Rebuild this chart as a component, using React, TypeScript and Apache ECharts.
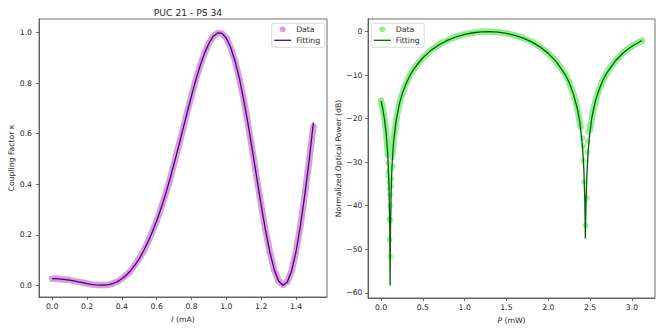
import React, { useEffect, useRef } from 'react';
import * as echarts from 'echarts';

// ---------- Left panel: coupling factor vs current ----------
const currentI = [
  0, 0.025, 0.05, 0.075, 0.1, 0.125, 0.15, 0.175, 0.2, 0.225, 0.25, 0.275, 0.3, 0.325, 0.35, 0.375,
  0.4, 0.425, 0.45, 0.475, 0.5, 0.525, 0.55, 0.575, 0.6, 0.625, 0.65, 0.675, 0.7, 0.725, 0.75, 0.775,
  0.8, 0.825, 0.85, 0.875, 0.9, 0.925, 0.95, 0.975, 1.0, 1.025, 1.05, 1.075, 1.1, 1.125, 1.15, 1.175,
  1.2, 1.225, 1.25, 1.275, 1.3, 1.325, 1.35, 1.375, 1.4, 1.425, 1.45, 1.475, 1.5,
];
const kappaData = [
  0.026, 0.027, 0.024, 0.023, 0.021, 0.017, 0.014, 0.011, 0.007, 0.004, 0.002, 0.001, 0.001, 0.003, 0.008, 0.015,
  0.027, 0.041, 0.057, 0.081, 0.107, 0.136, 0.173, 0.213, 0.255, 0.306, 0.36, 0.416, 0.483, 0.549, 0.615, 0.686,
  0.75, 0.815, 0.871, 0.918, 0.959, 0.985, 0.999, 0.996, 0.979, 0.94, 0.888, 0.817, 0.735, 0.636, 0.533, 0.423,
  0.318, 0.217, 0.131, 0.061, 0.018, 0.002, 0.014, 0.057, 0.134, 0.233, 0.357, 0.49, 0.628,
];
const kappaFit = [
  0.027, 0.0265, 0.025, 0.023, 0.0205, 0.0175, 0.014, 0.0105, 0.007, 0.004, 0.0018, 0.0006, 0.0008, 0.003, 0.0075, 0.015,
  0.026, 0.04, 0.058, 0.08, 0.106, 0.137, 0.172, 0.212, 0.256, 0.305, 0.359, 0.418, 0.482, 0.548, 0.616, 0.684,
  0.751, 0.814, 0.87, 0.919, 0.958, 0.986, 0.999, 0.997, 0.978, 0.941, 0.887, 0.818, 0.733, 0.637, 0.532, 0.424,
  0.317, 0.218, 0.13, 0.062, 0.017, 0.0002, 0.0135, 0.058, 0.133, 0.234, 0.356, 0.491, 0.645,
];
const leftXTicks = [0, 0.2, 0.4, 0.6, 0.8, 1.0, 1.2, 1.4];
const leftYTicks = [0, 0.2, 0.4, 0.6, 0.8, 1.0];

// ---------- Right panel: normalized optical power vs electrical power ----------
const bandAP = [0, 0.015, 0.03, 0.045, 0.06, 0.072, 0.082];
const bandADb = [-15.9, -17.2, -18.8, -20.6, -23.0, -25.5, -28.3];
const bandBP = [
  0.135, 0.145, 0.16, 0.18, 0.2, 0.22, 0.25, 0.28, 0.32, 0.36, 0.4, 0.45, 0.5, 0.55, 0.6, 0.65, 0.7, 0.75,
  0.8, 0.85, 0.9, 0.95, 1.0, 1.1, 1.2, 1.3, 1.4, 1.5, 1.6, 1.7, 1.8, 1.85, 1.9, 1.95, 2.0, 2.05, 2.1, 2.15,
  2.2, 2.25, 2.3, 2.33, 2.36, 2.385,
];
const bandBDb = [
  -28.0, -26.0, -23.6, -20.5, -18.3, -16.6, -14.5, -12.8, -11.0, -9.6, -8.4, -7.1, -6.0, -5.1, -4.25, -3.55, -2.95, -2.4,
  -1.95, -1.55, -1.17, -0.88, -0.62, -0.26, -0.05, 0.0, -0.12, -0.4, -0.85, -1.5, -2.35, -2.85, -3.5, -4.2, -5.0, -5.9, -7.0, -8.3,
  -9.8, -11.7, -14.3, -16.2, -18.9, -21.8,
];
const bandCP = [2.5, 2.52, 2.54, 2.57, 2.6, 2.65, 2.7, 2.75, 2.8, 2.85, 2.9, 2.95, 3.0, 3.06, 3.12];
const bandCDb = [-22.5, -20.0, -18.0, -15.6, -13.7, -11.3, -9.5, -8.0, -6.8, -5.75, -4.8, -4.05, -3.35, -2.7, -2.05];
const dipP = [
  0.084, 0.086, 0.088, 0.1, 0.123, 0.123, 0.1, 0.111, 0.111, 0.1, 0.111, 0.1, 0.111, 0.131, 0.131, 0.143, 0.122,
  2.38, 2.39, 2.41, 2.42, 2.418, 2.43, 2.46, 2.445, 2.48, 2.49, 2.47, 2.465,
];
const dipDb = [
  -30.2, -32.2, -33.2, -34.6, -33.9, -35.5, -36.0, -37.4, -40.0, -43.1, -43.3, -47.8, -51.7, -26.3, -28.9, -30.9, -31.5,
  -20.9, -22.0, -24.4, -26.3, -29.6, -34.5, -38.2, -44.5, -23.1, -21.7, -25.2, -27.7,
];
const fitP = [
  0, 0.02, 0.04, 0.06, 0.08, 0.095, 0.104, 0.108, 0.113, 0.12, 0.13, 0.15, 0.18, 0.22, 0.26, 0.3, 0.35, 0.4,
  0.5, 0.6, 0.7, 0.8, 0.9, 1.0, 1.1, 1.2, 1.3, 1.4, 1.5, 1.6, 1.7, 1.8, 1.9, 2.0, 2.1, 2.2, 2.25, 2.3, 2.35,
  2.38, 2.41, 2.425, 2.437, 2.443, 2.45, 2.46, 2.475, 2.49, 2.52, 2.56, 2.6, 2.65, 2.7, 2.8, 2.9, 3.0, 3.12,
];
const fitDb = [
  -15.9, -17.7, -20.0, -23.2, -28.3, -35.5, -45.0, -58.3, -45.5, -37.5, -31.2, -25.3, -20.5, -16.5, -13.9, -11.9, -9.9, -8.4,
  -6.0, -4.25, -2.95, -1.95, -1.18, -0.63, -0.26, -0.05, 0.0, -0.12, -0.4, -0.85, -1.5, -2.36, -3.5, -5.0, -7.0, -9.8, -11.7, -14.3, -17.9,
  -21.2, -26.6, -31.5, -39.0, -47.5, -40.0, -33.5, -28.2, -24.3, -19.9, -16.2, -13.7, -11.3, -9.45, -6.75, -4.8, -3.35, -2.05,
];
const rightXTicks = [0, 0.5, 1.0, 1.5, 2.0, 2.5, 3.0];
const rightYTicks = [-60, -50, -40, -30, -20, -10, 0];

const FONT = 'DejaVu Sans';
const TXT = '#262626';
const SPINE = '#4a4a4a';
const LINE_ICON = 'path://M0,0H40V3H0Z';

const zip = (xs: number[], ys: number[]) => xs.map((x, i) => [x, ys[i]]);
const minus = (s: string) => s.replace('-', '\u2212');

function axisBase(ticks: number[], fmt: (v: number) => string, margin: number) {
  return {
    type: 'value' as const,
    axisLine: { show: true, onZero: false, lineStyle: { color: SPINE, width: 0.8 } },
    axisTick: { show: true, inside: false, length: 3, lineStyle: { color: SPINE, width: 0.8 }, customValues: ticks },
    axisLabel: {
      customValues: ticks,
      formatter: (v: number) => fmt(v),
      margin,
      fontSize: 7.7,
      color: TXT,
      fontFamily: FONT,
    },
    splitLine: { show: false },
    nameLocation: 'middle' as const,
    nameTextStyle: {
      fontSize: 7.7,
      color: TXT,
      fontFamily: FONT,
      rich: { i: { fontStyle: 'italic', fontSize: 7.7, color: TXT, fontFamily: FONT } },
    },
  };
}

function legendBase(left: number, fmt?: (n: string) => string) {
  return {
    orient: 'vertical' as const,
    left,
    top: 23.3,
    padding: [2, 4.5, 3, 2.5],
    itemWidth: 17,
    itemHeight: 6,
    itemGap: 3,
    itemTextGap: 5,
    symbolKeepAspect: true,
    backgroundColor: 'rgba(255,255,255,0.8)',
    borderColor: '#cfcfcf',
    borderWidth: 0.8,
    borderRadius: 2,
    textStyle: { fontSize: 7.7, color: TXT, fontFamily: FONT },
    formatter: fmt,
    selectedMode: false,
  };
}

export default function App() {
  const ref = useRef<HTMLDivElement>(null);
  useEffect(() => {
    if (!ref.current) return;
    const chart = echarts.init(ref.current, undefined, { renderer: 'svg' });
    const option: any = {
      animation: false,
      backgroundColor: '#ffffff',
      textStyle: { fontFamily: FONT },
      title: {
        text: 'PUC 21 - PS 34',
        left: 183,
        top: 3,
        textAlign: 'center',
        textStyle: { fontSize: 9.2, fontWeight: 'normal', color: TXT, fontFamily: FONT },
      },
      legend: [
        {
          ...legendBase(271.7),
          data: [
            { name: 'Data', icon: 'circle' },
            { name: 'Fitting', icon: LINE_ICON },
          ],
        },
        {
          ...legendBase(371.3, (n: string) => n.replace('R:', '')),
          data: [
            { name: 'R:Data', icon: 'circle' },
            { name: 'R:Fitting', icon: LINE_ICON },
          ],
        },
      ],
      grid: [
        { left: 39, top: 19, width: 288, height: 278, show: true, borderColor: SPINE, borderWidth: 0.8, outerBoundsMode: 'none', containLabel: false },
        { left: 368, top: 19, width: 287, height: 279, show: true, borderColor: SPINE, borderWidth: 0.8, outerBoundsMode: 'none', containLabel: false },
      ],
      xAxis: [
        {
          ...axisBase(leftXTicks, (v) => v.toFixed(1), 5.5),
          gridIndex: 0,
          min: -0.076,
          max: 1.578,
          name: '{i|I} (mA)',
          nameGap: 17,
        },
        {
          ...axisBase(rightXTicks, (v) => v.toFixed(1), 5.5),
          gridIndex: 1,
          min: -0.156,
          max: 3.276,
          name: '{i|P} (mW)',
          nameGap: 17,
        },
      ],
      yAxis: [
        {
          ...axisBase(leftYTicks, (v) => v.toFixed(1), 7),
          gridIndex: 0,
          min: -0.046,
          max: 1.054,
          name: 'Coupling Factor \u03ba',
          nameRotate: 90,
          nameGap: 23,
        },
        {
          ...axisBase(rightYTicks, (v) => minus(String(v)), 5.5),
          gridIndex: 1,
          min: -61.2,
          max: 2.9,
          name: 'Normalized Optical Power (dB)',
          nameRotate: 90,
          nameGap: 25,
        },
      ],
      series: [
        {
          name: 'Data',
          type: 'line',
          xAxisIndex: 0,
          yAxisIndex: 0,
          data: zip(currentI, kappaData),
          symbol: 'circle',
          symbolSize: 6,
          showSymbol: true,
          itemStyle: { color: '#d99fdd' },
          lineStyle: { color: '#d99fdd', width: 6.5, cap: 'round', join: 'round' },
          z: 2,
        },
        {
          name: 'Fitting',
          type: 'line',
          xAxisIndex: 0,
          yAxisIndex: 0,
          data: zip(currentI, kappaFit),
          symbol: 'none',
          itemStyle: { color: '#4b0082' },
          lineStyle: { color: '#4b0082', width: 1.3 },
          z: 3,
        },
        ...[
          [bandAP, bandADb],
          [bandBP, bandBDb],
          [bandCP, bandCDb],
        ].map(([xs, ys]) => ({
          name: 'R:Data',
          type: 'line',
          xAxisIndex: 1,
          yAxisIndex: 1,
          data: zip(xs, ys),
          symbol: 'circle',
          symbolSize: 6,
          showSymbol: true,
          itemStyle: { color: '#90ee90' },
          lineStyle: { color: '#90ee90', width: 6.5, cap: 'round', join: 'round' },
          z: 2,
        })),
        {
          name: 'R:Data',
          type: 'scatter',
          xAxisIndex: 1,
          yAxisIndex: 1,
          data: zip(dipP, dipDb),
          symbol: 'circle',
          symbolSize: 6,
          itemStyle: { color: '#90ee90', opacity: 0.8 },
          z: 2,
        },
        {
          name: 'R:Fitting',
          type: 'line',
          xAxisIndex: 1,
          yAxisIndex: 1,
          data: zip(fitP, fitDb),
          symbol: 'none',
          itemStyle: { color: '#006400' },
          lineStyle: { color: '#006400', width: 1.3 },
          z: 3,
        },
      ],
    };
    chart.setOption(option);
    return () => chart.dispose();
  }, []);
  return (
    <div
      ref={ref}
      style={{ position: 'absolute', left: 0, top: 0, width: 664, height: 332 }}
    />
  );
}
